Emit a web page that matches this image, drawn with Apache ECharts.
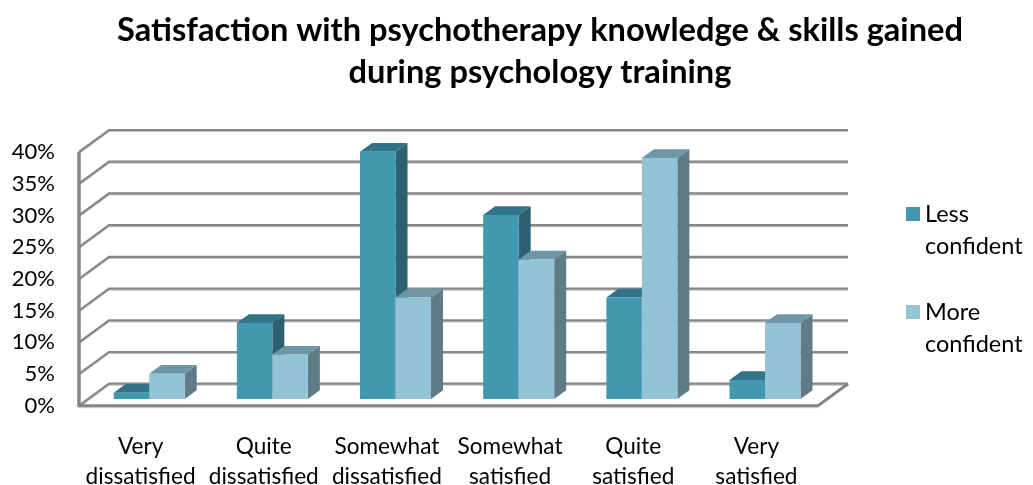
<!DOCTYPE html>
<html><head><meta charset="utf-8">
<style>html,body{margin:0;padding:0;background:#fff}#c{width:1033px;height:485px}</style>
<script src="https://cdn.jsdelivr.net/npm/echarts@6/dist/echarts.min.js"></script>
</head><body><div id="c"></div>
<script>
const categories = ['Very\ndissatisfied','Quite\ndissatisfied','Somewhat\ndissatisfied','Somewhat\nsatisfied','Quite\nsatisfied','Very\nsatisfied'];
const lessConfident = [1,12,39,29,16,3];
const moreConfident = [4,7,16,22,38,12];
const valueTicks = [0,5,10,15,20,25,30,35,40];
const FONT = 'Lato';
const WALL = {dx:30, dy:-22};
const BAR = {w:35.5, dx:12, dy:-8.7, sx:8.6, sy:-6.7};
const chart = echarts.init(document.getElementById('c'));

function wallItem(params, api){
  const v = api.value(1), cs = params.coordSys;
  const y = api.coord([0,v])[1], l = cs.x, r = cs.x+cs.width;
  const bl = l+WALL.dx, br = r+WALL.dx, by = y+WALL.dy;
  const pts = [[l,y],[bl,by],[br,by]];
  const kids = [];
  const add = (p,c,w)=>kids.push({type:'polyline',shape:{points:p},style:{fill:null,stroke:c,lineWidth:w}});
  add(pts.map(p=>[p[0],p[1]+1.5]),'#c4c4c4',1.2);
  add(pts,'#868686',2.2);
  if(v===0){
    add([[l,y],[r,y],[br,by]],'#868686',3);
    add([[l,y+2],[r,y+2]],'#c4c4c4',1);
  }
  if(v===valueTicks[valueTicks.length-1]){
    add([[l,api.coord([0,0])[1]+1.5],[l,y]],'#868686',3.5);
  }
  return {type:'group',children:kids};
}
function barItem(index, colors){
  return function(params, api){
    const c = api.coord([api.value(0),api.value(1)]);
    const z = api.coord([api.value(0),0]);
    const x0 = c[0]+BAR.sx+(index===0?-BAR.w:0), x1 = x0+BAR.w;
    const t = c[1]+BAR.sy, b = z[1]+BAR.sy;
    return {type:'group',children:[
      {type:'polygon',shape:{points:[[x1,t],[x1+BAR.dx,t+BAR.dy],[x1+BAR.dx,b+BAR.dy],[x1,b]]},style:{fill:colors.side}},
      {type:'polygon',shape:{points:[[x0,t],[x0+BAR.dx,t+BAR.dy],[x1+BAR.dx,t+BAR.dy],[x1,t]]},style:{fill:colors.top}},
      {type:'rect',shape:{x:x0,y:t,width:BAR.w,height:b-t},style:{fill:colors.front}}
    ]};
  };
}
const lessColors = {front:'#4198AF',top:'#31748A',side:'#2B6170'};
const moreColors = {front:'#93C3D5',top:'#6D97A6',side:'#5E7B87'};
chart.setOption({
  animation:false,
  title:{text:'Satisfaction with psychotherapy knowledge & skills gained\nduring psychology training',
    left:535,top:4,textAlign:'center',
    textStyle:{fontFamily:FONT,fontSize:32.6,fontWeight:'bold',color:'#000',lineHeight:42}},
  legend:{left:901,top:161,orient:'vertical',itemWidth:14,itemHeight:14,itemGap:2,icon:'rect',
    data:['Less confident','More confident'],
    formatter:n=>'\n'+n.replace(' ','\n'),
    textStyle:{fontFamily:FONT,fontSize:23.5,color:'#000',lineHeight:32}},
  grid:{left:79,top:152,width:739,height:253.7,outerBoundsMode:'none'},
  xAxis:{type:'category',data:categories,axisLine:{show:false},axisTick:{show:false},
    axisLabel:{fontFamily:FONT,fontSize:22.6,color:'#000',lineHeight:30,margin:26,interval:0}},
  yAxis:{type:'value',min:0,max:40,interval:5,splitLine:{show:false},axisLine:{show:false},axisTick:{show:false},
    axisLabel:{fontFamily:FONT,fontSize:22,color:'#000',margin:24,formatter:'{value}%'}},
  series:[
    {type:'custom',name:'wall',silent:true,clip:false,z:1,encode:{x:0,y:1},
      data:valueTicks.map(v=>[0,v]),renderItem:wallItem},
    {type:'custom',name:'Less confident',clip:false,z:2,encode:{x:0,y:1},itemStyle:{color:lessColors.front},
      data:lessConfident.map((v,i)=>[i,v]),renderItem:barItem(0,lessColors)},
    {type:'custom',name:'More confident',clip:false,z:3,encode:{x:0,y:1},itemStyle:{color:moreColors.front},
      data:moreConfident.map((v,i)=>[i,v]),renderItem:barItem(1,moreColors)}
  ]
});
</script></body></html>
